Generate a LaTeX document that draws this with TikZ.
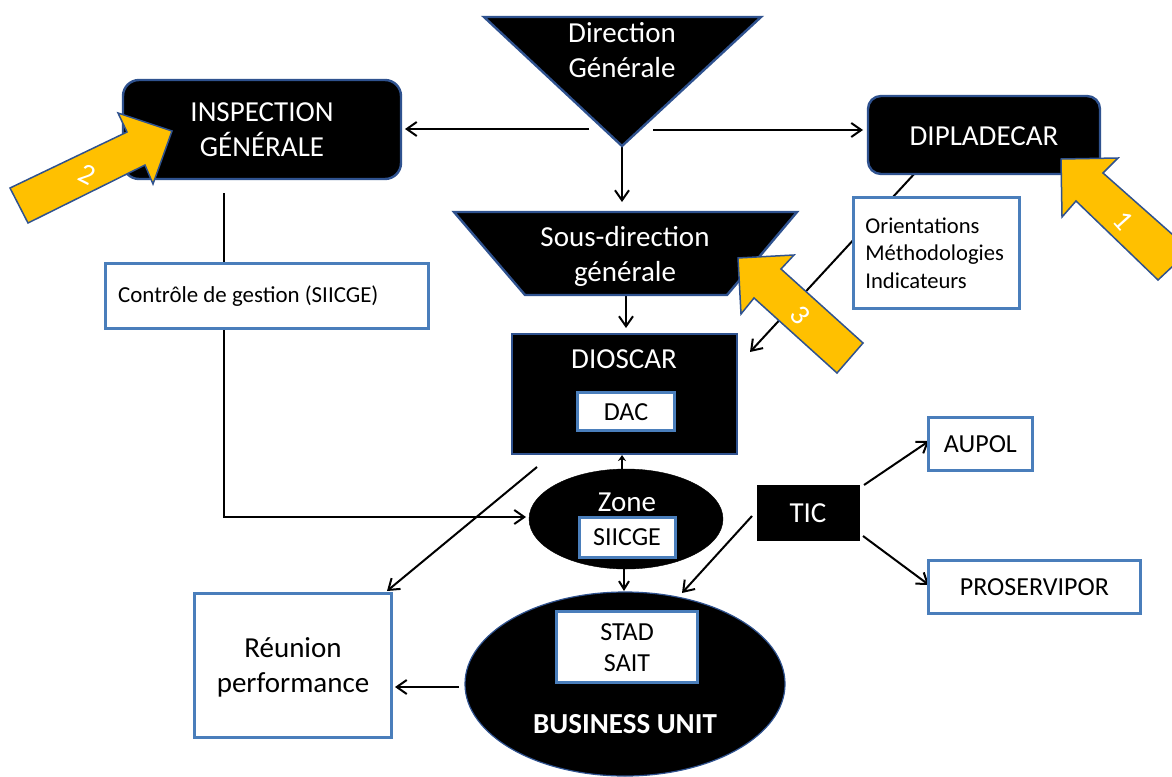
\documentclass[tikz,border=0pt]{standalone}
\usepackage{fontspec}
\setmainfont{Carlito}
\usetikzlibrary{arrows.meta}
\definecolor{edgeb}{HTML}{2F528F}
\definecolor{boxb}{HTML}{4A7EBB}
\definecolor{gold}{HTML}{FFC000}
\tikzset{x=1pt,y=-1pt,
 blk/.style={draw=edgeb,line width=2.4pt,fill=black},
 wbox/.style={draw=boxb,line width=2.8pt,fill=white,text=black,align=center,inner sep=0pt,rectangle,anchor=north west,font=\fontsize{26}{31}\selectfont},
 wt/.style={text=white,align=center,inner sep=0pt,font=\fontsize{29}{35}\selectfont},
 bl/.style={text=black,align=center,inner sep=0pt,font=\fontsize{26}{31}\selectfont},
 con/.style={draw=black,line width=2pt,-{Straight Barb[length=10pt,width=14pt]}},
 arrowshape/.style={draw=edgeb,line width=1.5pt,fill=gold,line join=miter},
 digit/.style={text=white,font=\fontsize{29}{30}\selectfont,inner sep=0pt},
}
\begin{document}
\begin{tikzpicture}
\useasboundingbox (0,0) rectangle (1172,776);
\fill[white] (0,0) rectangle (1172,776);
% connectors first (boxes and arrows lie over them)
\coordinate (a1) at (589,129);\coordinate (igR) at (405,129);\draw[con] (a1) -- (igR);
\coordinate (a2) at (653,130);\coordinate (dpL) at (863,130);\draw[con] (a2) -- (dpL);
\coordinate (a3) at (622,147);\coordinate (a3e) at (622,202);\draw[con] (a3) -- (a3e);
\coordinate (a4) at (626,296);\coordinate (a4e) at (626,328);\draw[con] (a4) -- (a4e);
\coordinate (b1) at (224,193);\coordinate (b4) at (224,517);\coordinate (b5) at (526,517);
\draw[con] (b1) -- (b4) -- (b5);
\coordinate (c1) at (916,172);\coordinate (c4) at (750,352);\draw[con] (c1) -- (c4);
\coordinate (d1) at (537,467);\coordinate (d2) at (387,591);\draw[con] (d1) -- (d2);
\coordinate (e1) at (752,516);\coordinate (e2) at (682,593);\draw[con] (e1) -- (e2);
\coordinate (f1) at (864,485);\coordinate (f2) at (929,441);\draw[con] (f1) -- (f2);
\coordinate (g1) at (863,536);\coordinate (g2) at (929,585);\draw[con] (g1) -- (g2);
\coordinate (h1) at (459,687);\coordinate (h2) at (395,687);\draw[con] (h1) -- (h2);
% Direction
\draw[blk] (484,17) -- (761,17) -- (622,146) -- cycle;
\node[wt] (dg) at (622,50) {Direction\\Générale};
% Inspection
\draw[blk,rounded corners=16] (123,80) rectangle (401,179);
\node[wt] (ig) at (262,129.5) {INSPECTION\\GÉNÉRALE};
% Dipladecar
\draw[blk,rounded corners=13] (868,96) rectangle (1100,174);
\node[wt] (dp) at (984,136) {DIPLADECAR};
% sous-direction
\draw[blk] (454,212) -- (797,212) -- (727,295) -- (525,295) -- cycle;
\node[wt] (sd) at (625,256) {Sous-direction\\générale};
% Dioscar
\draw[blk] (512,334) rectangle (737,454);
\node[wt] (dio) at (624,359) {DIOSCAR};
\node[wbox,minimum width=97,minimum height=38] (dac) at (576,391) {};
\node[bl] (dact) at (626,412.5) {DAC};
% Zone
\draw[fill=black,draw=black] (626,519) ellipse (97 and 50);
\node[wt] (zn) at (627,502) {Zone};
\node[wbox,minimum width=96,minimum height=40] (si) at (578,516) {};
\node[bl] (sit) at (627,537.5) {SIICGE};
\coordinate (a5) at (622,470);\coordinate (a5e) at (622,455);
\draw[draw=black,line width=2pt,-{Stealth[length=6pt,width=8pt]}] (a5) -- (a5e);
\coordinate (a6) at (624,567);\coordinate (a6e) at (624,591);\draw[con,-{Straight Barb[length=8pt,width=10pt]}] (a6) -- (a6e);
% BU
\draw[draw=edgeb,fill=black,line width=1.2pt] (625,684) ellipse (160 and 92);
\node[wbox,minimum width=141,minimum height=71] (st) at (555,610) {};
\node[bl] (stt) at (627,648) {STAD\\SAIT};
\node[text=white,font=\fontsize{29}{30}\selectfont\bfseries,inner sep=0pt] (bu) at (625,724) {BUSINESS UNIT};
% TIC
\draw[blk,draw=black] (758,486) rectangle (859,540);
\node[wt] (tic) at (808,513) {TIC};
% white boxes
\node[wbox,minimum width=323,minimum height=65] (cg) at (104,262) {};
\node[inner sep=0pt,anchor=west,font=\fontsize{22.9}{27.5}\selectfont] (cgt) at (118,296) {Contrôle de gestion (SIICGE)};
\node[wbox,minimum width=166,minimum height=111,font=\fontsize{22.6}{27.5}\selectfont,text width=142,align=left] (or) at (852,196) {Orientations\\Méthodologies\\Indicateurs};
\node[wbox,minimum width=104,minimum height=53] (au) at (927,416) {AUPOL};
\node[wbox,minimum width=212,minimum height=53] (pr) at (927,559) {PROSERVIPOR};
\node[wbox,minimum width=197,minimum height=144] (rp) at (193,592) {};
\node[wt,text=black] (rpt) at (293,667) {Réunion\\performance};
% gold arrows
\draw[arrowshape] (10,188) -- (127,132) -- (118,113) -- (172,131) -- (153,184) -- (145,165) -- (28,223) -- cycle;
\node[digit,rotate=-27] (n2) at (87,174) {2};
\draw[arrowshape] (1190,250) -- (1158,280) -- (1076,201) -- (1062,217) -- (1061,159) -- (1118,158) -- (1103,173) -- cycle;
\node[digit,rotate=-48] (n1) at (1123,221) {1};
\draw[arrowshape] (863,343) -- (837,373) -- (754,298) -- (741,314) -- (738,258) -- (794,255) -- (781,269) -- cycle;
\node[digit,rotate=-50] (n3) at (800,315) {3};
\end{tikzpicture}
\end{document}
